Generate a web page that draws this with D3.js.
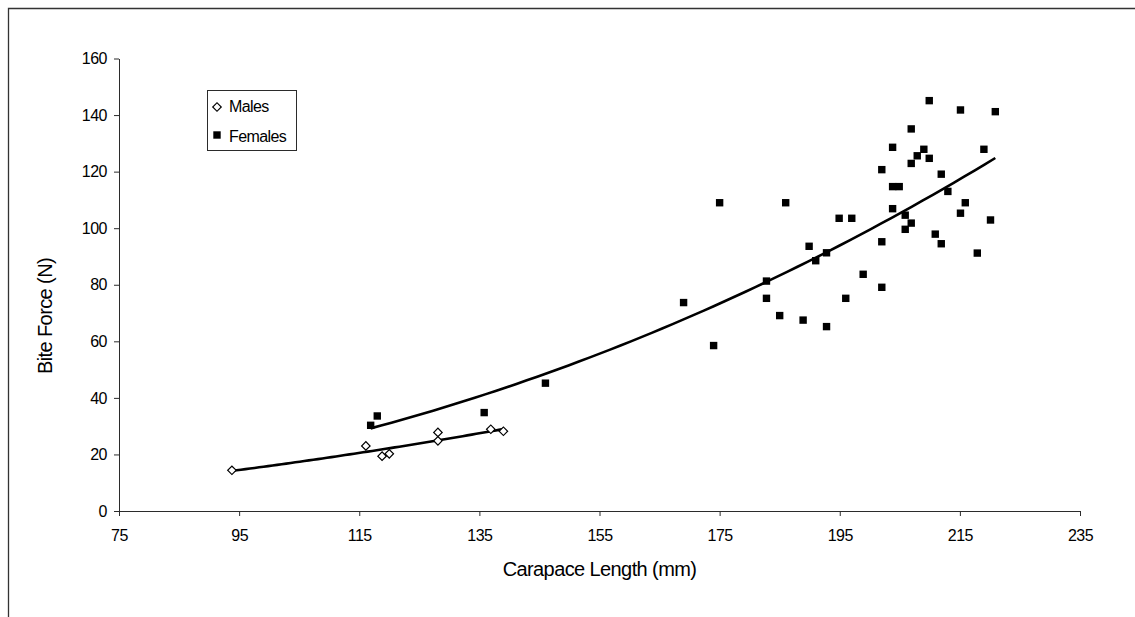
<!DOCTYPE html>
<html>
<head>
<meta charset="utf-8">
<script src="https://cdn.jsdelivr.net/npm/d3@7"></script>
<style>
  html, body { margin: 0; padding: 0; background: #fff; }
  svg { display: block; font-family: "Liberation Sans", Arial, sans-serif; }
</style>
</head>
<body>
<svg id="chart" width="1135" height="617"></svg>
<script>
// Carapace length (mm) and bite force (N) per individual
const maleLength = [93.8, 116.1, 118.8, 120.0, 128.1, 128.1, 136.9, 139.0];
const maleForce  = [14.4, 23.0, 19.4, 20.2, 27.8, 24.8, 28.9, 28.2];

const femaleLength = [116.9, 118.0, 135.8, 146.0, 169.0, 175.0, 174.0, 186.0, 182.8, 182.8,
  185.0, 188.9, 189.9, 191.0, 192.8, 192.8, 194.9, 197.0, 196.0, 198.9,
  202.0, 202.0, 202.0, 203.8, 203.8, 204.9, 203.8, 205.9, 205.9, 206.9,
  206.9, 206.9, 207.9, 209.0, 209.9, 209.9, 210.9, 211.9, 211.9, 213.0,
  215.1, 215.1, 215.9, 217.9, 219.0, 220.1, 220.9];
const femaleForce = [30.3, 33.6, 34.8, 45.2, 73.7, 109.0, 58.5, 109.0, 81.3, 75.2,
  69.1, 67.5, 93.6, 88.5, 91.3, 65.2, 103.5, 103.5, 75.2, 83.7,
  95.2, 79.1, 120.7, 128.6, 114.7, 114.7, 106.9, 104.6, 99.6, 101.8,
  135.1, 122.9, 125.6, 127.9, 124.7, 145.1, 97.9, 119.1, 94.5, 113.0,
  141.8, 105.3, 109.0, 91.2, 127.9, 102.9, 141.2];

const xTicks = [75, 95, 115, 135, 155, 175, 195, 215, 235];
const yTicks = [0, 20, 40, 60, 80, 100, 120, 140, 160];
const seriesNames = ["Males", "Females"];

const svg = d3.select("#chart");
const axisColor = "#2b2b2b";

// plot area
const x = d3.scaleLinear().domain([75, 235]).range([119, 1080]);
const y = d3.scaleLinear().domain([0, 160]).range([511, 58.5]);

// outer chart frame (top and left edges visible)
svg.append("path")
  .attr("d", "M8.5,617 L8.5,8.5 L1135,8.5")
  .attr("fill", "none").attr("stroke", "#333").attr("stroke-width", 1.3);

// axes
const gx = svg.append("g").attr("transform", `translate(0,${y(0)})`)
  .call(d3.axisBottom(x).tickValues(xTicks).tickSize(5).tickPadding(14).tickSizeOuter(0));
const gy = svg.append("g").attr("transform", `translate(${x(75)},0)`)
  .call(d3.axisLeft(y).tickValues(yTicks).tickSize(5).tickPadding(7).tickSizeOuter(0));
[gx, gy].forEach(g => {
  g.select(".domain").attr("stroke", axisColor).attr("stroke-width", 1);
  g.selectAll(".tick line").attr("stroke", axisColor).attr("stroke-width", 1);
  g.selectAll(".tick text").attr("fill", "#000")
    .style("font-size", "16px").style("font-family", "'Liberation Sans', Arial, sans-serif")
    .attr("letter-spacing", "-0.5");
});

// axis titles
svg.append("text")
  .attr("x", (x.range()[0] + x.range()[1]) / 2).attr("y", 576)
  .attr("text-anchor", "middle").style("font-size", "20px").attr("letter-spacing", "-0.6")
  .text("Carapace Length (mm)");
svg.append("text")
  .attr("transform", "translate(51.5,316) rotate(-90)")
  .attr("text-anchor", "middle").style("font-size", "20px").attr("letter-spacing", "-0.6")
  .text("Bite Force (N)");

// power trend line y = a * x^b fitted in log-log space
function powerFit(xs, ys) {
  const lx = xs.map(Math.log), ly = ys.map(Math.log);
  const mx = d3.mean(lx), my = d3.mean(ly);
  const b = d3.sum(lx, (v, i) => (v - mx) * (ly[i] - my)) / d3.sum(lx, v => (v - mx) ** 2);
  const a = Math.exp(my - b * mx);
  return v => a * Math.pow(v, b);
}
function trendLine(xs, ys) {
  const f = powerFit(xs, ys);
  const [lo, hi] = d3.extent(xs);
  const pts = d3.range(0, 61).map(i => lo + (hi - lo) * i / 60);
  svg.append("path")
    .datum(pts)
    .attr("fill", "none").attr("stroke", "#000").attr("stroke-width", 2.6)
    .attr("stroke-linejoin", "round")
    .attr("d", d3.line().x(d => x(d)).y(d => y(f(d))));
}

// female squares
const females = femaleLength.map((v, i) => [v, femaleForce[i]]);
svg.append("g").selectAll("rect").data(females).join("rect")
  .attr("x", d => x(d[0]) - 3.7).attr("y", d => y(d[1]) - 3.7)
  .attr("width", 7.4).attr("height", 7.4).attr("fill", "#000");

// male diamonds
const diamond = d3.symbol().type(d3.symbolSquare).size(36);
const males = maleLength.map((v, i) => [v, maleForce[i]]);
trendLine(femaleLength, femaleForce);
trendLine(maleLength, maleForce);
svg.append("g").selectAll("path").data(males).join("path")
  .attr("d", diamond)
  .attr("transform", d => `translate(${x(d[0])},${y(d[1])}) rotate(45)`)
  .attr("fill", "#fff").attr("stroke", "#000").attr("stroke-width", 1.2);

// legend
const lg = svg.append("g");
lg.append("rect").attr("x", 207.5).attr("y", 90.5).attr("width", 89).attr("height", 60)
  .attr("fill", "#fff").attr("stroke", axisColor).attr("stroke-width", 1);
lg.append("path").attr("d", diamond)
  .attr("transform", "translate(217,107) rotate(45)")
  .attr("fill", "#fff").attr("stroke", "#000").attr("stroke-width", 1.2);
lg.append("rect").attr("x", 213.3).attr("y", 131.3).attr("width", 7.4).attr("height", 7.4).attr("fill", "#000");
lg.selectAll("text").data(seriesNames).join("text")
  .attr("x", 229).attr("y", (d, i) => [111.5, 141.5][i])
  .style("font-size", "16px").attr("letter-spacing", "-0.6")
  .text(d => d);
</script>
</body>
</html>
